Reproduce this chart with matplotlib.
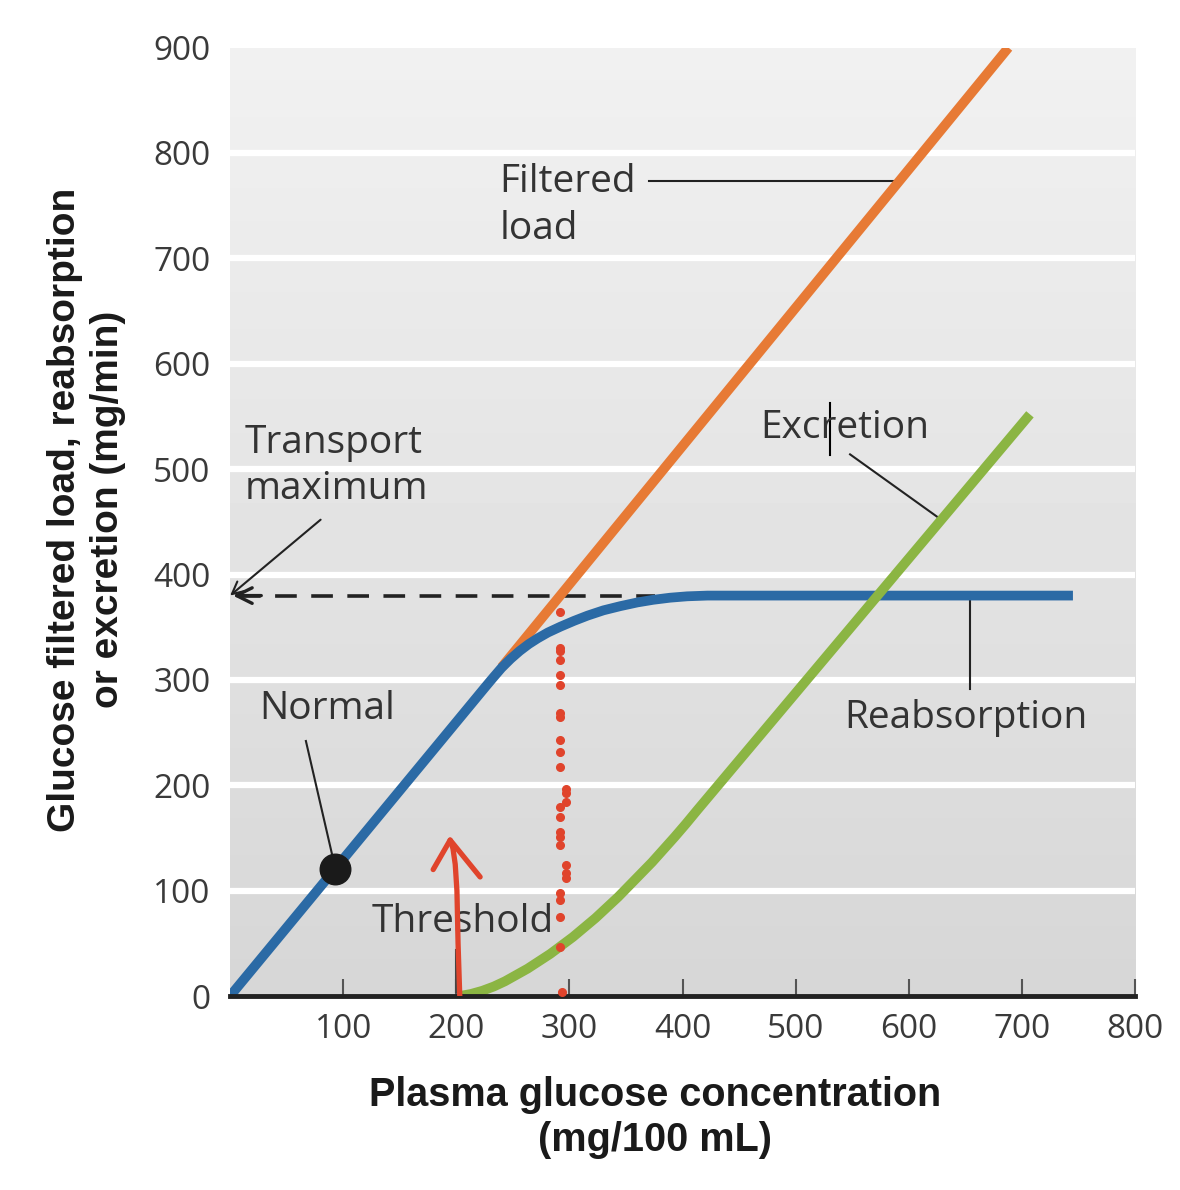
import matplotlib
matplotlib.use('Agg')
from matplotlib import pyplot as plt
import numpy as np

# values (x in mg/100 mL, y in mg/min)
filtered_x = [240, 688]
filtered_y = [312, 900]

reabs_x = [0, 200, 225, 232, 240, 248, 256, 264, 272, 281, 292, 304, 316, 330, 345,
           360, 374, 389, 404, 422, 745]
reabs_y = [0, 260, 292.5, 301.5, 311.5, 320, 327.5, 334, 339.5, 345, 350.5, 356, 361,
           366, 370, 373.5, 376, 378, 379.3, 380, 380]

excr_x = [203, 213, 223, 233, 243, 253, 263, 273, 283, 293, 303, 313, 323, 333, 343,
          353, 363, 373, 383, 393, 403, 413, 707]
excr_y = [0, 2, 5, 9, 14, 20, 26, 33, 40, 48, 56, 65, 74, 84, 94,
          105, 116, 127, 139, 151, 163.5, 176.5, 552]

normal_x, normal_y = 93, 121
transport_max = 380
threshold_x = 200

# hand-drawn red marks
pen_x = [203, 201.5, 200.5, 199, 197, 194.5]
pen_y = [0, 50, 100, 125, 140, 148]
pen_head_x = [179.5, 194.5, 221]
pen_head_y = [120, 148, 113]
dots_y = [364, 330, 327, 319, 305, 295, 269, 265, 243, 232, 217, 196, 193, 184, 179,
          170, 156, 151, 143, 124, 117, 112, 98, 91, 75, 47, 4]
dots_x = [292, 292, 292, 292, 292, 292, 292, 292, 292, 292, 292, 297, 297, 297, 292,
          292, 292, 292, 292, 297, 297, 297, 292, 292, 292, 292, 293]

xticks = [100, 200, 300, 400, 500, 600, 700, 800]
yticks = [0, 100, 200, 300, 400, 500, 600, 700, 800, 900]

ORANGE = '#e77a35'
BLUE = '#2b6aa5'
GREEN = '#8bb543'
RED = '#e0442c'
TXT = '#333333'
FONT = ['Open Sans', 'DejaVu Sans']
BOLD = ['Liberation Sans Narrow', 'Liberation Sans', 'DejaVu Sans']
FS = 28

fig = plt.figure(figsize=(11.8, 11.9), dpi=100)
ax = fig.add_axes([0.195, 0.163, 0.767, 0.797])
ax.set_xlim(0, 800)
ax.set_ylim(0, 900)

# gradient background
grad = np.linspace(0.84, 0.945, 256).reshape(-1, 1)
ax.imshow(grad, extent=[0, 800, 0, 900], origin='lower', aspect='auto',
          cmap='gray', vmin=0, vmax=1, zorder=0)
for yv in yticks[1:-1]:
    ax.axhline(yv, color='white', lw=4.5, zorder=1)

for s in ['top', 'right', 'left']:
    ax.spines[s].set_visible(False)
ax.spines['bottom'].set_linewidth(3.5)
ax.spines['bottom'].set_color('#222222')
ax.spines['bottom'].set_zorder(6)

ax.set_xticks(xticks)
ax.set_yticks(yticks)
ax.tick_params(axis='x', direction='in', length=12, width=1.5, color='#555555',
               labelsize=24, labelcolor='#3a3a3a', pad=12)
ax.tick_params(axis='y', length=0, labelsize=24, labelcolor='#3a3a3a', pad=14)
for lab in ax.get_xticklabels() + ax.get_yticklabels():
    lab.set_family(FONT)

# curves
ax.plot(filtered_x, filtered_y, color=ORANGE, lw=7, solid_capstyle='butt', zorder=3)
ax.plot(reabs_x, reabs_y, color=BLUE, lw=7, solid_capstyle='butt',
        solid_joinstyle='round', zorder=4)
ax.plot(excr_x, excr_y, color=GREEN, lw=7, solid_capstyle='butt',
        solid_joinstyle='round', zorder=4)
ax.plot(normal_x, normal_y, 'o', color='#1a1a1a', ms=22, zorder=5)

# transport maximum dashed arrow
ax.plot([8, 376], [transport_max, transport_max], color='#222222', lw=2.6,
        dashes=(6, 4), zorder=2)
ax.annotate('', xy=(0, transport_max), xytext=(30, transport_max),
            arrowprops=dict(arrowstyle='->', color='#222222', lw=2.4,
                            mutation_scale=28), zorder=2)

# labels and leader lines
ax.text(13, 503, 'Transport\nmaximum', fontsize=FS, color=TXT, family=FONT,
        va='center', ha='left', linespacing=1.3)
ax.annotate('', xy=(0, transport_max), xytext=(80, 452),
            arrowprops=dict(arrowstyle='->', color='#222222', lw=1.5,
                            mutation_scale=22, shrinkA=0, shrinkB=0))

ax.text(238, 750, 'Filtered\nload', fontsize=FS, color=TXT, family=FONT,
        va='center', ha='left', linespacing=1.3)
ax.plot([370, 586], [773, 773], color='#222222', lw=1.5)

ax.text(469, 539, 'Excretion', fontsize=FS, color=TXT, family=FONT,
        va='center', ha='left')
ax.plot([548, 626], [514, 454], color='#222222', lw=1.5)
ax.plot([530.5, 530.5], [513, 563], color='black', lw=1.5)

ax.text(543, 264, 'Reabsorption', fontsize=FS, color=TXT, family=FONT,
        va='center', ha='left')
ax.plot([654, 654], [380, 291], color='#222222', lw=1.5)

ax.text(26, 272, 'Normal', fontsize=FS, color=TXT, family=FONT,
        va='center', ha='left')
ax.plot([67, normal_x], [242, normal_y], color='#222222', lw=1.5, zorder=4)

ax.text(125, 70, 'Threshold', fontsize=FS, color=TXT, family=FONT,
        va='center', ha='left')
ax.plot([threshold_x, threshold_x], [4, 44], color='#444444', lw=1.5)

# red pen marks
ax.plot(pen_x, pen_y, color=RED, lw=3.8, solid_capstyle='round', zorder=7)
ax.plot(pen_head_x, pen_head_y, color=RED, lw=3.8, solid_capstyle='round',
        solid_joinstyle='round', zorder=7)
ax.plot(dots_x, dots_y, 'o', color=RED, ms=5.5, zorder=7)

ax.set_xlabel('Plasma glucose concentration\n(mg/100 mL)', fontsize=28.5,
              fontweight='bold', family=BOLD, color='#1a1a1a', labelpad=22,
              linespacing=1.22)
ax.xaxis.label.set_x(0.47)
ax.set_ylabel('Glucose filtered load, reabsorption\nor excretion (mg/min)', fontsize=28,
              fontweight='bold', family=BOLD, color='#1a1a1a', labelpad=20,
              linespacing=1.25)
ax.yaxis.label.set_y(0.513)

fig.savefig('out.png', dpi=100, facecolor='white')
